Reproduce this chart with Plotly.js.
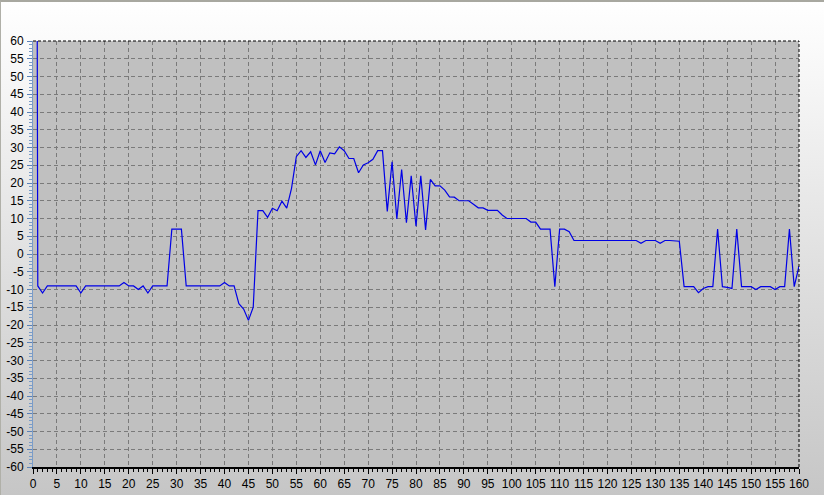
<!DOCTYPE html>
<html>
<head>
<meta charset="utf-8">
<script src="https://cdn.plot.ly/plotly-3.0.1.min.js"></script>
<style>
  html, body { margin: 0; padding: 0; }
  body { width: 824px; height: 495px; overflow: hidden;
         background: linear-gradient(to bottom, #ffffff 0%, #f7f7f7 15%, #dcdcdc 60%, #c6c6c6 100%); }
  #chart { width: 824px; height: 495px; position: absolute; left: 0; top: 0; }
  #frame { position: absolute; left: 0; top: 0; width: 823px; height: 494px;
           border-top: 2px solid #a8a8a0; border-left: 1px solid #b0b0a8; pointer-events: none; }
</style>
</head>
<body>
<div id="chart"></div>
<div id="frame"></div>
<script>
// Sample index (x) and measured value (y)
const xValues = [];
for (let i = 0; i <= 160; i++) xValues.push(i);

const yValues = [
  600, -9, -11, -9, -9, -9, -9, -9, -9, -9,          // 0-9
  -11, -9, -9, -9, -9, -9, -9, -9, -9, -8,           // 10-19
  -9, -9, -10, -9, -11, -9, -9, -9, -9, 7,           // 20-29
  7, 7, -9, -9, -9, -9, -9, -9, -9, -9,              // 30-39
  -8, -9, -9, -14, -15.5, -18.7, -15, 12.2, 12.2, 10.3, // 40-49
  12.9, 12.2, 14.9, 12.9, 18.5, 27.4, 29.1, 27.2, 28.8, 25.1, // 50-59
  29.1, 25.8, 28.5, 28.2, 30.2, 29.1, 26.9, 26.9, 22.9, 25.1, // 60-69
  25.7, 26.7, 29.1, 29.1, 12, 26, 9.9, 23.8, 8.8, 22,   // 70-79
  7.8, 22, 6.8, 21, 19.2, 19.2, 18, 16.1, 16, 15,      // 80-89
  15, 15, 14, 13, 13, 12.3, 12.3, 12.3, 11, 10,        // 90-99
  10, 10, 10, 10, 9, 9, 7, 7, 7, -9.2,                 // 100-109
  7, 7, 6.3, 3.8, 3.8, 3.8, 3.8, 3.8, 3.8, 3.8,        // 110-119
  3.8, 3.8, 3.8, 3.8, 3.8, 3.8, 3.8, 3, 3.8, 3.8,      // 120-129
  3.8, 3, 3.8, 3.8, 3.8, 3.6, -9.2, -9.2, -9.2, -10.9, // 130-139
  -9.7, -9.2, -9.2, 7, -9.2, -9.4, -9.7, 7, -9.2, -9.2, // 140-149
  -9.2, -10, -9.2, -9.2, -9.2, -10, -9.2, -9.2, 7, -9.2, // 150-159
  -3.4                                                 // 160
];

const xTickVals = [0,5,10,15,20,25,30,35,40,45,50,55,60,65,70,75,80,85,90,95,100,105,110,115,120,125,130,135,140,145,150,155,160];
const yTickVals = [-60,-55,-50,-45,-40,-35,-30,-25,-20,-15,-10,-5,0,5,10,15,20,25,30,35,40,45,50,55,60];

const trace = {
  x: xValues,
  y: yValues,
  type: 'scatter',
  mode: 'lines',
  line: { color: '#0000e6', width: 1.2 },
  hoverinfo: 'skip',
  cliponaxis: true
};

const layout = {
  width: 824,
  height: 495,
  margin: { l: 33, r: 25, t: 41, b: 28, pad: 0 },
  paper_bgcolor: 'rgba(0,0,0,0)',
  plot_bgcolor: '#c0c0c0',
  showlegend: false,
  font: { family: 'Liberation Sans, Arial, sans-serif', size: 12, color: '#000' },
  xaxis: {
    range: [0, 160],
    tickmode: 'array',
    tickvals: xTickVals,
    ticktext: xTickVals.map(String),
    ticks: 'outside',
    ticklen: 5,
    tickcolor: '#000',
    tickwidth: 1,
    showline: true,
    linecolor: '#000',
    linewidth: 2,
    showgrid: true,
    gridcolor: '#7a7a7a',
    gridwidth: 1,
    griddash: '4px,3px',
    zeroline: false,
    minor: { dtick: 1, ticks: 'outside', ticklen: 3, tickcolor: '#000', showgrid: false },
    tickfont: { size: 12, color: '#000' },
    fixedrange: true
  },
  yaxis: {
    range: [-60, 60],
    tickmode: 'array',
    tickvals: yTickVals,
    ticktext: yTickVals.map(String),
    ticks: 'outside',
    ticklen: 5,
    tickcolor: '#5b82b8',
    tickwidth: 1,
    showline: true,
    linecolor: '#7a9cc8',
    linewidth: 1,
    showgrid: true,
    gridcolor: '#7a7a7a',
    gridwidth: 1,
    griddash: '4px,3px',
    zeroline: false,
    minor: { dtick: 1, ticks: 'outside', ticklen: 3, tickcolor: '#7a9cc8', showgrid: false },
    tickfont: { size: 12, color: '#000' },
    ticklabelstandoff: 1,
    fixedrange: true
  },
  shapes: [
    { type: 'line', xref: 'paper', yref: 'paper', x0: 0, x1: 1, y0: 1, y1: 1,
      line: { color: '#000', width: 1, dash: '3px,2px' } },
    { type: 'line', xref: 'paper', yref: 'paper', x0: 1, x1: 1, y0: 0, y1: 1,
      line: { color: '#000', width: 1, dash: '3px,2px' } }
  ]
};

Plotly.newPlot('chart', [trace], layout, { displayModeBar: false, staticPlot: true });
</script>
</body>
</html>
